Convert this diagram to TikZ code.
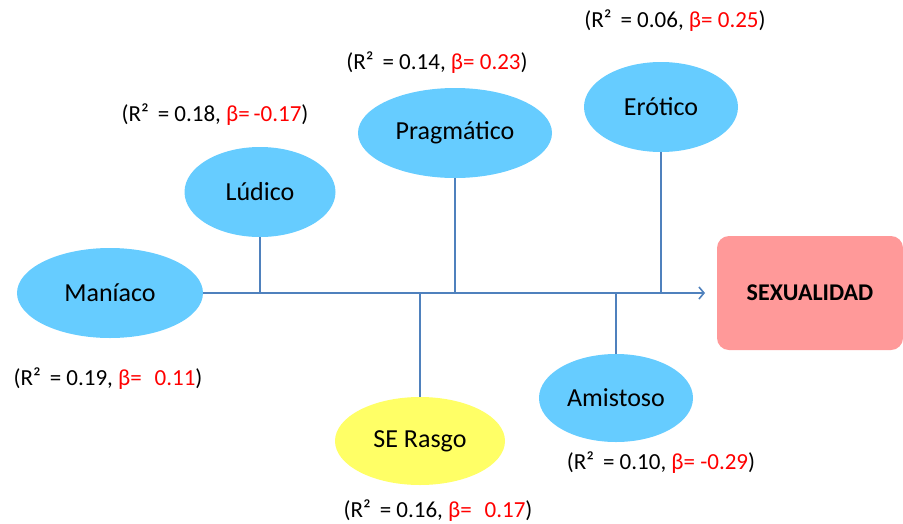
\documentclass[tikz,border=0pt]{standalone}
\usepackage{fontspec}
\setmainfont{Carlito}
\usepackage{xcolor}
\usetikzlibrary{shapes.geometric,arrows.meta}
\definecolor{linkblue}{HTML}{4F81BD}
\definecolor{stylefill}{HTML}{66CCFF}
\definecolor{traitfill}{HTML}{FFFF66}
\definecolor{outfill}{HTML}{FF9999}
\definecolor{betared}{HTML}{FF0000}

\begin{document}
\begin{tikzpicture}[x=1pt, y=-1pt, font=\fontsize{26}{30}\selectfont,
    lovestyle/.style={shape=ellipse, fill=stylefill, inner sep=0pt, minimum height=90},
    coef/.style={font=\fontsize{23}{27}\selectfont},
    link/.style={draw=linkblue, line width=1.6pt}]
        \useasboundingbox (0,0) rectangle (903,523);
        % Nodes
        \node[lovestyle, minimum width=186] (M) at (110,293) {Maníaco};
        \node[lovestyle, minimum width=151] (L) at (260,192) {Lúdico};
        \node[lovestyle, minimum width=194] (P) at (455,133) {Pragmático};
        \node[lovestyle, minimum width=154] (E) at (661,107) {Erótico};
        \node[lovestyle, minimum width=170, minimum height=88, fill=traitfill] (S) at (420,441) {SE Rasgo};
        \node[lovestyle, minimum width=154, minimum height=88] (A) at (616,398) {Amistoso};
        \node[shape=rectangle, rounded corners=12pt, fill=outfill, minimum width=186, minimum height=114,
              font=\fontsize{24}{28}\selectfont\bfseries] (X) at (810,293) {SEXUALIDAD};
        \coordinate (T) at (705,293);
        % Coefficients
        \node[coef] (RE) at (675,21) {(R²\, = 0.06, \textcolor{betared}{β= 0.25})};
        \node[coef] (RP) at (437,63) {(R²\, = 0.14, \textcolor{betared}{β= 0.23})};
        \node[coef] (RL) at (215,115) {(R²\, = 0.18, \textcolor{betared}{β=\,-0.17})};
        \node[coef] (RM) at (108,379) {(R²\, = 0.19, \textcolor{betared}{β=\,\, 0.11})};
        \node[coef] (RA) at (661,463) {(R²\, = 0.10, \textcolor{betared}{β= -0.29})};
        \node[coef] (RS) at (438,511) {(R²\, = 0.16, \textcolor{betared}{β=\,\, 0.17})};
        % Links
        \path[link, -{Straight Barb[length=5pt, width=12pt]}] (M.east) -- (T);
        \path[link] (L.south) -- (L.south |- T);
        \path[link] (P.south) -- (P.south |- T);
        \path[link] (E.south) -- (E.south |- T);
        \path[link] (S.north) -- (S.north |- T);
        \path[link] (A.north) -- (A.north |- T);
    \end{tikzpicture}
\end{document}
